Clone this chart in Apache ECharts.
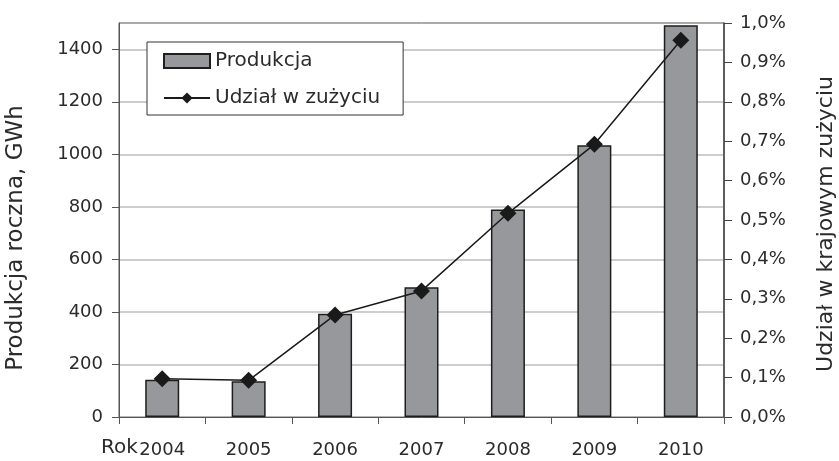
<!DOCTYPE html>
<html>
<head>
<meta charset="utf-8">
<script src="https://cdn.jsdelivr.net/npm/echarts@6/dist/echarts.min.js"></script>
<style>html,body{margin:0;padding:0;background:#fff}#c{width:839px;height:461px}</style>
</head>
<body>
<div id="c"></div>
<script>
const categories = ['2004','2005','2006','2007','2008','2009','2010'];
const production = [142, 136, 393, 494, 790, 1035, 1491];
const share = [0.097, 0.093, 0.259, 0.320, 0.517, 0.692, 0.956];
const leftTicks = [0, 200, 400, 600, 800, 1000, 1200, 1400];

const FONT = 'DejaVu Sans';
const TXT = '#2b2b2b';
const chart = echarts.init(document.getElementById('c'), null, {renderer: 'canvas'});
chart.setOption({
  animation: false,
  backgroundColor: '#fff',
  textStyle: {fontFamily: FONT, color: TXT},
  grid: {left: 119, right: 115, top: 23, bottom: 44, show: true, borderColor: '#555', borderWidth: 1},
  legend: {
    left: 147, top: 42, orient: 'vertical',
    backgroundColor: '#fff', borderColor: '#333', borderWidth: 1,
    padding: [9, 23, 7, 16], itemGap: 17,
    itemWidth: 46, itemHeight: 14,
    textStyle: {fontFamily: FONT, fontSize: 20, color: TXT},
    data: [{name: 'Produkcja', icon: 'rect'}, {name: 'Udział w zużyciu'}]
  },
  xAxis: {
    type: 'category', data: categories, boundaryGap: true,
    axisLine: {lineStyle: {color: '#555', width: 1}},
    axisTick: {show: true, length: 7, interval: 0, lineStyle: {color: '#555'}},
    axisLabel: {fontFamily: FONT, fontSize: 18, color: TXT, margin: 24, interval: 0}
  },
  yAxis: [{
    type: 'value', min: 0, max: 1500, interval: 200, position: 'left',
    axisLine: {show: true, lineStyle: {color: '#555', width: 1}},
    axisTick: {show: true, length: 7, customValues: leftTicks, lineStyle: {color: '#555'}},
    axisLabel: {fontFamily: FONT, fontSize: 18, color: TXT, margin: 16, customValues: leftTicks,
      formatter: v => String(v)},
    splitLine: {show: true, lineStyle: {color: '#bdbdbd', width: 1.5}}
  }, {
    type: 'value', min: 0, max: 1.0, interval: 0.1, position: 'right',
    axisLine: {show: true, lineStyle: {color: '#444', width: 1.5}},
    axisTick: {show: true, length: 8, lineStyle: {color: '#444'}},
    axisLabel: {fontFamily: FONT, fontSize: 18, color: TXT, margin: 16,
      formatter: v => v.toFixed(1).replace('.', ',') + '%'},
    splitLine: {show: false}
  }],
  series: [{
    name: 'Produkcja', type: 'bar', data: production, yAxisIndex: 0,
    barWidth: 34,
    itemStyle: {color: '#97989c', borderColor: '#1e1e1e', borderWidth: 1.5}
  }, {
    name: 'Udział w zużyciu', type: 'line', data: share, yAxisIndex: 1,
    symbol: 'diamond', symbolSize: 17,
    lineStyle: {color: '#1a1a1a', width: 1.5},
    itemStyle: {color: '#1a1a1a'}
  }],
  graphic: [{
    type: 'text', left: 101, top: 438,
    style: {text: 'Rok', font: '20px "DejaVu Sans"', fill: TXT}
  }, {
    type: 'text', x: 16, y: 238, rotation: Math.PI / 2,
    style: {text: 'Produkcja roczna, GWh', font: '23px "DejaVu Sans"', fill: TXT, align: 'center', verticalAlign: 'middle'}
  }, {
    type: 'text', x: 826, y: 224, rotation: Math.PI / 2,
    style: {text: 'Udział w krajowym zużyciu', font: '22px "DejaVu Sans"', fill: TXT, align: 'center', verticalAlign: 'middle'}
  }]
});
</script>
</body>
</html>
